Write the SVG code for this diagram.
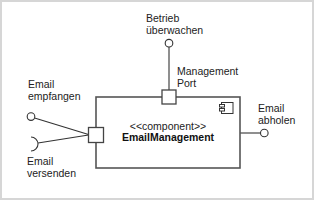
<svg xmlns="http://www.w3.org/2000/svg" width="314" height="200" viewBox="0 0 314 200">
<style>
text{font-family:"Liberation Sans",Arial,sans-serif;font-size:10.5px;fill:#222}
.b{font-weight:bold;fill:#111}
.box{fill:#fff;stroke:#555;stroke-width:1.6}
.port{fill:#fff;stroke:#444;stroke-width:1.3}
.ln{fill:none;stroke:#333;stroke-width:1.1}
.lol{fill:#fff;stroke:#333;stroke-width:1.1}
.ic{fill:#fff;stroke:#333;stroke-width:1}
</style>
<rect x="1" y="1" width="312" height="198" fill="#fff" stroke="#d6d6d6" stroke-width="2"/>
<g id="connectors">
<line class="ln" x1="169" y1="47" x2="169" y2="90"/>
<line class="ln" x1="34.6" y1="118" x2="88.5" y2="134.5"/>
<line class="ln" x1="38" y1="143" x2="88.5" y2="135"/>
<line class="ln" x1="240" y1="133" x2="260.5" y2="133"/>
</g>
<g id="EmailManagement">
<rect class="box" x="96" y="97" width="144" height="71"/>
<g id="icon">
<rect class="ic" x="221.5" y="102.5" width="11.5" height="11"/>
<rect class="ic" x="219.5" y="104.5" width="5" height="2.5"/>
<rect class="ic" x="219.5" y="108.5" width="5" height="2.5"/>
</g>
<text x="168" y="130" text-anchor="middle">&lt;&lt;component&gt;&gt;</text>
<text class="b" x="168" y="141" text-anchor="middle">EmailManagement</text>
</g>
<g id="ManagementPort">
<rect class="port" x="162" y="90" width="14" height="14"/>
<text x="177" y="75">Management</text>
<text x="177" y="87">Port</text>
</g>
<g id="LeftPort">
<rect class="port" x="88.5" y="127.5" width="15" height="15"/>
</g>
<g id="BetriebUeberwachen">
<circle class="lol" cx="169" cy="43.2" r="3.8"/>
<text x="146" y="22">Betrieb</text>
<text x="146" y="34">überwachen</text>
</g>
<g id="EmailEmpfangen">
<circle class="lol" cx="31" cy="116.6" r="3.8"/>
<text x="28" y="88">Email</text>
<text x="28" y="100">empfangen</text>
</g>
<g id="EmailVersenden">
<path class="ln" d="M31 137 A7 7 0 0 1 31 151"/>
<text x="27" y="165">Email</text>
<text x="27" y="177">versenden</text>
</g>
<g id="EmailAbholen">
<circle class="lol" cx="264.3" cy="133" r="3.8"/>
<text x="258" y="112">Email</text>
<text x="258" y="124">abholen</text>
</g>
</svg>
